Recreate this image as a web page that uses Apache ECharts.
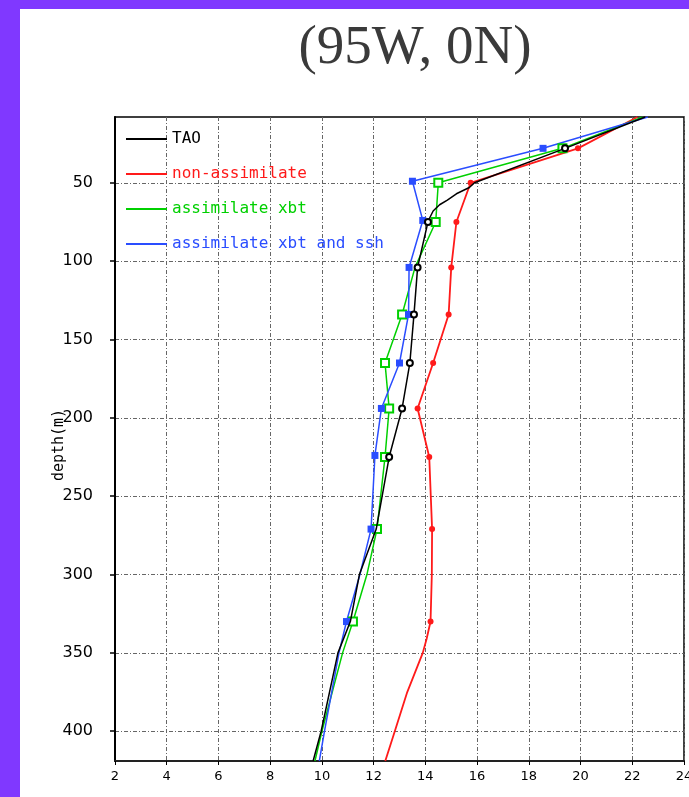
<!DOCTYPE html>
<html>
<head>
<meta charset="utf-8">
<script src="https://cdn.jsdelivr.net/npm/echarts@6/dist/echarts.min.js"></script>
<style>
html,body{margin:0;padding:0;background:#fff;}
#c{width:689px;height:797px;}
</style>
</head>
<body>
<div id="c"></div>
<script>
// ---- data ----
const seriesNames = ['TAO', 'non-assimilate', 'assimilate xbt', 'assimilate xbt and ssh'];

const taoDepth = [8, 28, 50, 53, 57, 61, 64, 68, 72, 75, 104, 134, 165, 194, 225, 271, 300, 330, 350, 400, 419];
const taoTemp  = [22.5, 19.4, 15.9, 15.7, 15.2, 14.85, 14.55, 14.3, 14.18, 14.1, 13.7, 13.56, 13.4, 13.1, 12.6, 12.1, 11.45, 11.1, 10.62, 9.97, 9.66];
const taoMarkers = [28, 75, 104, 134, 165, 194, 225];

const nonDepth = [8, 28, 50, 75, 104, 134, 165, 194, 225, 271, 300, 330, 341, 350, 375, 401, 419];
const nonTemp  = [22.2, 19.9, 15.75, 15.2, 15.0, 14.9, 14.3, 13.7, 14.15, 14.26, 14.25, 14.2, 14.05, 13.9, 13.3, 12.8, 12.45];
const nonMarkers = [28, 50, 75, 104, 134, 165, 194, 225, 271, 330];

const xbtDepth = [8, 28, 50, 75, 104, 134, 165, 194, 225, 271, 300, 330, 350, 400, 419];
const xbtTemp  = [22.4, 19.3, 14.5, 14.4, 13.6, 13.1, 12.44, 12.6, 12.44, 12.13, 11.74, 11.2, 10.8, 10.0, 9.73];
const xbtMarkers = [28, 50, 75, 134, 165, 194, 225, 271, 330];

const sshDepth = [8, 28, 49, 74, 104, 134, 165, 194, 224, 271, 300, 330, 350, 400, 419];
const sshTemp  = [22.6, 18.55, 13.5, 13.9, 13.37, 13.35, 13.0, 12.3, 12.05, 11.9, 11.47, 10.95, 10.66, 10.1, 9.9];
const sshMarkers = [28, 49, 74, 104, 134, 165, 194, 224, 271, 330];

const depthTicks = [50, 100, 150, 200, 250, 300, 350, 400];
const tempTicks = [2, 4, 6, 8, 10, 12, 14, 16, 18, 20, 22, 24];

// ---- build ----
function build(depth, temp, markers) {
  return depth.map((d, i) => {
    const item = { value: [temp[i], d] };
    if (markers.indexOf(d) < 0) item.symbol = 'none';
    return item;
  });
}

const colors = ['#000000', '#ff1a1a', '#00d000', '#2a4dff'];
const chart = echarts.init(document.getElementById('c'), null, { renderer: 'canvas' });

const legendFont = { fontFamily: 'DejaVu Sans Mono', fontSize: 16, lineHeight: 16 };

chart.setOption({
  backgroundColor: '#ffffff',
  animation: false,
  title: {
    text: '(95W, 0N)',
    left: 410,
    textAlign: 'center',
    top: 16,
    textStyle: { fontFamily: 'Liberation Serif', fontSize: 55, fontWeight: 'normal', color: '#3a3a3a' }
  },
  graphic: [
    { type: 'rect', left: 0, top: 0, shape: { width: 689, height: 9 }, style: { fill: '#8038ff' }, z: 100 },
    { type: 'rect', left: 0, top: 0, shape: { width: 20, height: 797 }, style: { fill: '#8038ff' }, z: 100 },
    {
      type: 'text', x: 59, y: 445, rotation: Math.PI / 2,
      style: { text: 'depth(m)', fill: '#000', font: '15px "DejaVu Sans Mono"', textAlign: 'center', textVerticalAlign: 'middle' }
    }
  ],
  legend: {
    orient: 'vertical',
    left: 121,
    top: 126,
    itemWidth: 41,
    itemHeight: 2,
    itemGap: 19,
    icon: 'rect',
    textStyle: legendFont,
    data: seriesNames.map((n, i) => ({
      name: n,
      itemStyle: { color: colors[i] },
      textStyle: Object.assign({ color: colors[i] }, legendFont)
    }))
  },
  grid: { left: 115, top: 117, right: 5, bottom: 36, outerBoundsMode: 'none', containLabel: false, show: true, borderColor: '#000', borderWidth: 1.5, backgroundColor: 'transparent' },
  xAxis: {
    type: 'value',
    min: 2,
    max: 24,
    interval: 2,
    axisLine: { show: true, lineStyle: { color: '#222', width: 2 } },
    axisTick: { show: true, inside: false, length: 4, lineStyle: { color: '#000' } },
    axisLabel: { color: '#000', fontFamily: 'DejaVu Sans', fontSize: 13, margin: 9, showMaxLabel: true, showMinLabel: true, hideOverlap: false },
    splitLine: { show: true, lineStyle: { color: '#666', width: 1, type: [4, 2, 1, 2] } }
  },
  yAxis: {
    type: 'value',
    inverse: true,
    min: 8,
    max: 419,
    axisLine: { show: true, lineStyle: { color: '#000', width: 2 } },
    axisTick: { show: true, length: 5, customValues: depthTicks, lineStyle: { color: '#000', width: 1.5 } },
    axisLabel: { color: '#000', fontFamily: 'DejaVu Sans', fontSize: 16, margin: 22, customValues: depthTicks },
    splitLine: { show: true, lineStyle: { color: '#666', width: 1, type: [4, 2, 1, 2] } }
  },
  series: [
    {
      name: seriesNames[0], type: 'line', data: build(taoDepth, taoTemp, taoMarkers),
      symbol: 'emptyCircle', symbolSize: 6, color: colors[0],
      lineStyle: { color: colors[0], width: 1.5 }, itemStyle: { color: colors[0] }, z: 5
    },
    {
      name: seriesNames[1], type: 'line', data: build(nonDepth, nonTemp, nonMarkers),
      symbol: 'circle', symbolSize: 6, color: colors[1],
      lineStyle: { color: colors[1], width: 1.8 }, itemStyle: { color: colors[1] }, z: 3
    },
    {
      name: seriesNames[2], type: 'line', data: build(xbtDepth, xbtTemp, xbtMarkers),
      symbol: 'emptyRect', symbolSize: 8, color: colors[2],
      lineStyle: { color: colors[2], width: 1.5 }, itemStyle: { color: colors[2], borderWidth: 1.5 }, z: 4
    },
    {
      name: seriesNames[3], type: 'line', data: build(sshDepth, sshTemp, sshMarkers),
      symbol: 'rect', symbolSize: 7, color: colors[3],
      lineStyle: { color: colors[3], width: 1.5 }, itemStyle: { color: colors[3] }, z: 4
    }
  ]
});
</script>
</body>
</html>
